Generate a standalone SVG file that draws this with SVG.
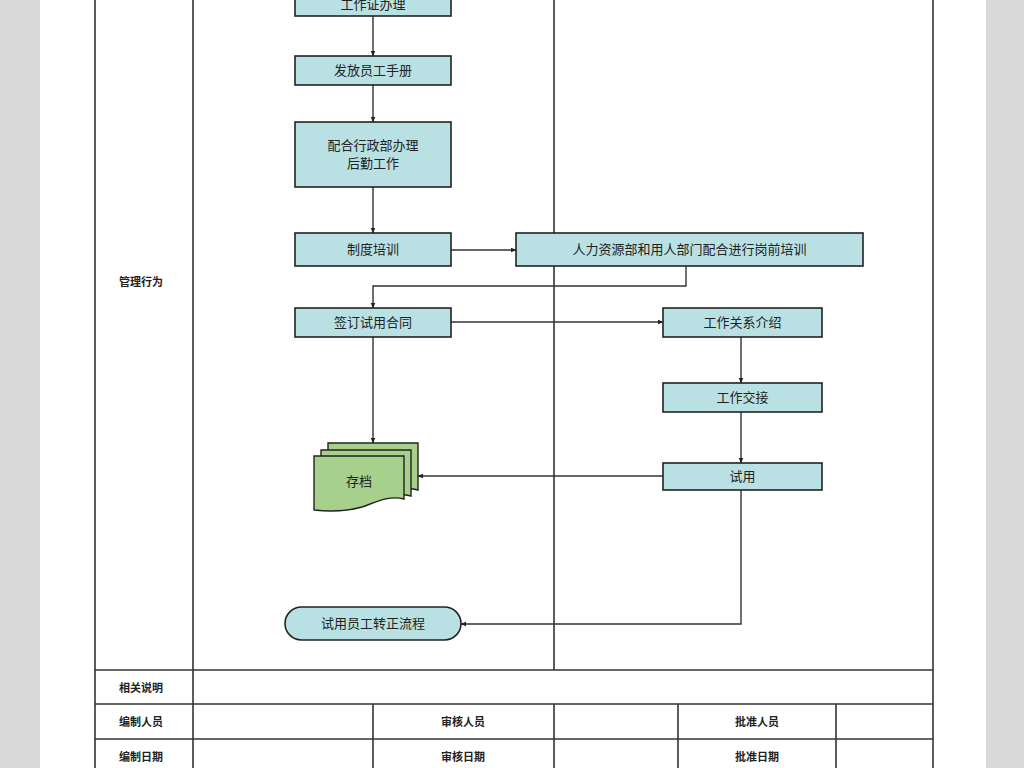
<svg xmlns="http://www.w3.org/2000/svg" width="1024" height="768" viewBox="0 0 1024 768">
<style>
.bg{fill:#dadada}
.frame{stroke:#333;stroke-width:1.6;fill:none}
.box{fill:#b9e0e2;stroke:#222;stroke-width:1.6}
.doc{fill:#a8d08d;stroke:#222;stroke-width:1.4}
.t{font-family:"Liberation Sans","Noto Sans CJK SC",sans-serif;font-size:13px;fill:#222;text-anchor:middle;dominant-baseline:central}
.lab{font-family:"Liberation Sans","Noto Sans CJK SC",sans-serif;font-size:11px;font-weight:bold;fill:#222;text-anchor:middle;dominant-baseline:central}
.c{stroke:#333;stroke-width:1.4;fill:none;marker-end:url(#ah)}
</style>
<defs>
<marker id="ah" viewBox="0 0 10 10" refX="9" refY="5" markerWidth="6" markerHeight="6" orient="auto" markerUnits="userSpaceOnUse">
<path d="M0,1 L10,5 L0,9 z" fill="#222"/>
</marker>
</defs>
<rect width="1024" height="768" fill="#fff"/>
<rect class="bg" x="0" y="0" width="40" height="768"/>
<rect class="bg" x="986" y="0" width="38" height="768"/>
<g id="table">
<line class="frame" x1="95" y1="0" x2="95" y2="768"/>
<line class="frame" x1="933" y1="0" x2="933" y2="768"/>
<line class="frame" x1="193" y1="0" x2="193" y2="768"/>
<line class="frame" x1="554" y1="0" x2="554" y2="670"/>
<line class="frame" x1="95" y1="670" x2="933" y2="670"/>
<line class="frame" x1="95" y1="704" x2="933" y2="704"/>
<line class="frame" x1="95" y1="739" x2="933" y2="739"/>
<line class="frame" x1="373" y1="704" x2="373" y2="768"/>
<line class="frame" x1="554" y1="704" x2="554" y2="768"/>
<line class="frame" x1="678" y1="704" x2="678" y2="768"/>
<line class="frame" x1="836" y1="704" x2="836" y2="768"/>
<text class="lab" x="141" y="282">管理行为</text>
<text class="lab" x="141" y="688">相关说明</text>
<text class="lab" x="141" y="722">编制人员</text>
<text class="lab" x="141" y="757">编制日期</text>
<text class="lab" x="463" y="722">审核人员</text>
<text class="lab" x="463" y="757">审核日期</text>
<text class="lab" x="757" y="722">批准人员</text>
<text class="lab" x="757" y="757">批准日期</text>
</g>
<g id="connectors">
<path class="c" d="M373,16 V56"/>
<path class="c" d="M373,85 V122"/>
<path class="c" d="M373,187 V233"/>
<path class="c" d="M451,250 H516"/>
<path class="c" d="M686,266 V286 H373 V308"/>
<path class="c" d="M451,322 H663"/>
<path class="c" d="M373,337 V443"/>
<path class="c" d="M741,337 V383"/>
<path class="c" d="M741,412 V463"/>
<path class="c" d="M663,476 H418"/>
<path class="c" d="M741,490 V624 H461"/>
</g>
<g id="n1"><rect class="box" x="295" y="-10" width="156" height="26"/><text class="t" x="373" y="4">工作证办理</text></g>
<g id="n2"><rect class="box" x="295" y="56" width="156" height="29"/><text class="t" x="373" y="70.5">发放员工手册</text></g>
<g id="n3"><rect class="box" x="295" y="122" width="156" height="65"/><text class="t" x="373" y="145">配合行政部办理</text><text class="t" x="373" y="163">后勤工作</text></g>
<g id="n4"><rect class="box" x="295" y="233" width="156" height="33"/><text class="t" x="373" y="249.5">制度培训</text></g>
<g id="n5"><rect class="box" x="516" y="233" width="347" height="33"/><text class="t" x="689.5" y="249.5">人力资源部和用人部门配合进行岗前培训</text></g>
<g id="n6"><rect class="box" x="295" y="308" width="156" height="29"/><text class="t" x="373" y="322.5">签订试用合同</text></g>
<g id="n7"><rect class="box" x="663" y="308" width="159" height="29"/><text class="t" x="742.5" y="322.5">工作关系介绍</text></g>
<g id="n8"><rect class="box" x="663" y="383" width="159" height="29"/><text class="t" x="742.5" y="397.5">工作交接</text></g>
<g id="n9"><rect class="box" x="663" y="463" width="159" height="27"/><text class="t" x="742.5" y="476.5">试用</text></g>
<g id="n10">
<path class="doc" d="M328,443 H418 V490 C402,486 388,493 376,497 C362,501 345,501 328,499 Z"/>
<path class="doc" d="M321,450 H411 V496 C395,492 381,499 369,503 C355,507 338,507 321,505 Z"/>
<path class="doc" d="M314,456 H404 V499 C388,495 374,503 362,507 C348,511 331,512 314,510 Z"/>
<text class="t" x="359" y="481">存档</text>
</g>
<g id="n11"><rect class="box" x="285" y="607" width="176" height="33" rx="16.5"/><text class="t" x="373" y="623.5">试用员工转正流程</text></g>
</svg>
